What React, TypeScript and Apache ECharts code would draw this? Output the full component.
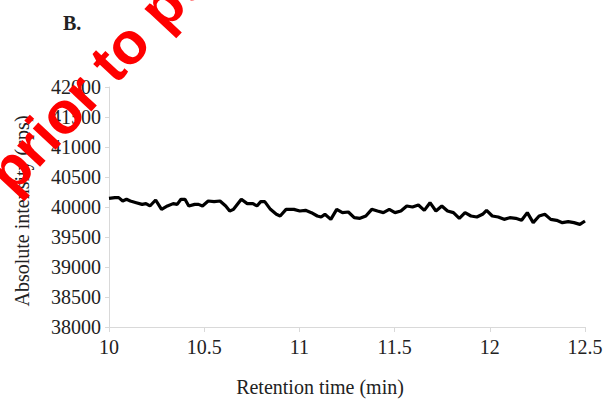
import React, { useEffect, useRef } from "react";
import * as echarts from "echarts";

const retentionTime = [
  10.0, 10.031, 10.051, 10.072, 10.092, 10.112, 10.143, 10.174, 10.194, 10.215,
  10.245, 10.276, 10.307, 10.337, 10.358, 10.378, 10.399, 10.419, 10.45, 10.47,
  10.491, 10.521, 10.552, 10.583, 10.613, 10.634, 10.654, 10.695, 10.726, 10.756,
  10.777, 10.797, 10.818, 10.848, 10.879, 10.899, 10.93, 10.971, 11.002, 11.032,
  11.063, 11.094, 11.114, 11.134, 11.165, 11.196, 11.226, 11.257, 11.288, 11.318,
  11.349, 11.38, 11.41, 11.441, 11.472, 11.502, 11.533, 11.564, 11.594, 11.625,
  11.656, 11.686, 11.717, 11.748, 11.778, 11.809, 11.84, 11.87, 11.901, 11.932,
  11.962, 11.983, 12.013, 12.044, 12.075, 12.105, 12.136, 12.167, 12.197, 12.228,
  12.259, 12.289, 12.32, 12.351, 12.381, 12.412, 12.442, 12.473, 12.5,
];

const intensity = [
  40144, 40156, 40156, 40100, 40128, 40100, 40072, 40044, 40056, 40017,
  40117, 39961, 40017, 40056, 40044, 40128, 40128, 40017, 40044, 40044,
  40017, 40100, 40089, 40100, 40017, 39933, 39961, 40128, 40056, 40056,
  40017, 40089, 40089, 39961, 39878, 39850, 39961, 39961, 39933, 39944,
  39906, 39850, 39833, 39878, 39794, 39961, 39906, 39917, 39822, 39811,
  39850, 39961, 39933, 39906, 39961, 39906, 39933, 40017, 40000, 40033,
  39944, 40072, 39933, 40017, 39933, 39906, 39811, 39906, 39850, 39833,
  39878, 39944, 39850, 39833, 39794, 39822, 39811, 39778, 39906, 39739,
  39850, 39878, 39794, 39778, 39739, 39756, 39739, 39711, 39767,
];

const xTicks = [10, 10.5, 11, 11.5, 12, 12.5];
const yTicks = [38000, 38500, 39000, 39500, 40000, 40500, 41000, 41500, 42000];

const panelLabel = "B.";
const watermark = "prior to publication";
const xTitle = "Retention time (min)";
const yTitle = "Absolute intensity (cps)";

export default function App() {
  const ref = useRef<HTMLDivElement>(null);
  useEffect(() => {
    if (!ref.current) return;
    const chart = echarts.init(ref.current, undefined, { renderer: "svg" });
    const serif = "'Liberation Serif', 'Times New Roman', serif";
    const data = retentionTime.map((t, i) => [t, intensity[i]]);
    const rot = (47 * Math.PI) / 180;
    chart.setOption({
      animation: false,
      backgroundColor: "#ffffff",
      grid: { left: 109, right: 23, top: 87, bottom: 72, containLabel: false },
      xAxis: {
        type: "value",
        min: xTicks[0],
        max: xTicks[xTicks.length - 1],
        interval: 0.5,
        axisLine: { show: true, lineStyle: { color: "#d9d9d9", width: 1 } },
        axisTick: { show: true, length: 5, lineStyle: { color: "#d9d9d9" } },
        axisLabel: {
          fontFamily: serif,
          fontSize: 20,
          color: "#222",
          margin: 10,
          formatter: (v: number) => String(v),
        },
        splitLine: { show: false },
      },
      yAxis: {
        type: "value",
        min: yTicks[0],
        max: yTicks[yTicks.length - 1],
        interval: 500,
        axisLine: { show: true, lineStyle: { color: "#d9d9d9", width: 1 } },
        axisTick: { show: true, length: 4, lineStyle: { color: "#d9d9d9" } },
        axisLabel: {
          fontFamily: serif,
          fontSize: 20,
          color: "#222",
          margin: 8,
          formatter: (v: number) => String(v),
        },
        splitLine: { show: false },
      },
      series: [
        {
          type: "line",
          data,
          showSymbol: false,
          symbol: "none",
          lineStyle: { color: "#000", width: 3.2 },
          itemStyle: { color: "#000" },
          z: 3,
        },
      ],
      graphic: [
        {
          type: "text",
          left: 63,
          top: 13,
          style: {
            text: panelLabel,
            font: `bold 20px ${serif}`,
            fill: "#222",
          },
          z: 10,
        },
        {
          type: "text",
          x: 320,
          y: 387,
          style: {
            text: xTitle,
            font: `20px ${serif}`,
            fill: "#222",
            align: "center",
            verticalAlign: "middle",
          },
          z: 10,
        },
        {
          type: "text",
          x: 22,
          y: 211,
          rotation: Math.PI / 2,
          style: {
            text: yTitle,
            font: `20px ${serif}`,
            fill: "#222",
            align: "center",
            verticalAlign: "middle",
          },
          z: 10,
        },
        {
          type: "text",
          x: -2.4,
          y: 182,
          rotation: rot,
          style: {
            text: watermark,
            font: "bold 59px 'Liberation Sans', Arial, sans-serif",
            fill: "#ff0000",
            align: "left",
            verticalAlign: "middle",
          },
          z: 20,
        },
      ],
    });
    return () => chart.dispose();
  }, []);
  return (
    <div
      ref={ref}
      style={{ position: "fixed", left: 0, top: 0, width: 608, height: 399 }}
    />
  );
}
